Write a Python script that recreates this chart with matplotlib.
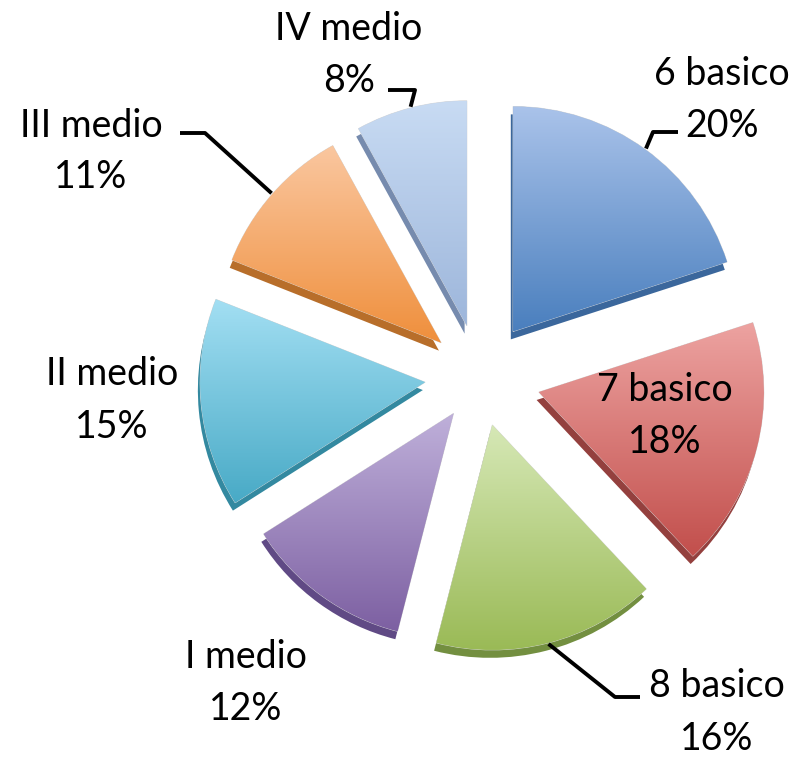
import matplotlib
matplotlib.use("Agg")
import matplotlib.pyplot as plt
import numpy as np
from matplotlib.colors import LinearSegmentedColormap

# ---------------- data ----------------
categories = ["6 basico", "7 basico", "8 basico", "I medio", "II medio", "III medio", "IV medio"]
percentages = [20, 18, 16, 12, 15, 11, 8]

# ---------------- style ----------------
top_colors = ["#AAC3EA", "#EDA3A1", "#D6E8B6", "#BFB0DA", "#A3DFF3", "#FAC7A0", "#C8DBF3"]
bottom_colors = ["#4A7FBE", "#C24F4C", "#9ABA56", "#7D60A2", "#48AAC6", "#EF8F3C", "#9DB6DB"]
side_colors = ["#3B679C", "#94403E", "#738F40", "#604A85", "#3389A0", "#B86E2A", "#768BAE"]
explode = [0.25, 0.27, 0.22, 0.20, 0.245, 0.23, 0.235]

W, H = 798, 757
R_PX = 225.0
CX, CY = 480.0, 377.0


def d(px, py):
    """pixel -> data coordinates"""
    return (px - CX) / R_PX, (CY - py) / R_PX


plt.rcParams["font.family"] = ["Lato", "DejaVu Sans"]

fig = plt.figure(figsize=(W / 100, H / 100), dpi=100)
ax = fig.add_axes([0, 0, 1, 1])

# extruded "side" of the 3D slices
side_wedges, _ = ax.pie(percentages, explode=explode, startangle=90, counterclock=False,
                        colors=side_colors, radius=1.0, center=(-0.01, -0.035),
                        wedgeprops=dict(linewidth=0))
for w in side_wedges:
    w.set_zorder(1)

# main slices
wedges, _ = ax.pie(percentages, explode=explode, startangle=90, counterclock=False,
                   colors=bottom_colors, radius=1.0,
                   wedgeprops=dict(linewidth=0.6, edgecolor="#d8d8d8"))
for i, w in enumerate(wedges):
    w.set_zorder(2)
    ext = w.get_path().get_extents()
    cmap = LinearSegmentedColormap.from_list("g%d" % i, [bottom_colors[i], top_colors[i]])
    grad = np.linspace(1, 0, 256).reshape(-1, 1)
    im = ax.imshow(grad, cmap=cmap, extent=[ext.x0, ext.x1, ext.y0, ext.y1],
                   origin="upper", aspect="auto", interpolation="bilinear", zorder=3)
    im.set_clip_path(w)

# ---------------- labels ----------------
FS = 27
# (center x, name baseline y, pct baseline y) in pixels
label_pos = {
    "6 basico": (722, 85, 137),
    "7 basico": (665, 401, 453),
    "8 basico": (717, 697, 750),
    "I medio": (246, 668, 720),
    "II medio": (112, 385, 438),
    "III medio": (91, 137, 188),
    "IV medio": (349, 40, 92),
}
for cat, pct in zip(categories, percentages):
    x, y1, y2 = label_pos[cat]
    ax.text(*d(x, y1), cat, ha="center", va="baseline", fontsize=FS, color="black", zorder=6)
    ax.text(*d(x, y2), f"{pct}%", ha="center", va="baseline", fontsize=FS, color="black", zorder=6)

# leader lines: start on arc midpoint of the slice, elbow, horizontal end (pixels)
leaders = {
    "6 basico": [(653, 132), (678, 132)],
    "8 basico": [(615, 697), (640, 697)],
    "III medio": [(205, 133), (180, 133)],
    "IV medio": [(415, 90), (388, 90)],
}
for i, cat in enumerate(categories):
    if cat not in leaders:
        continue
    w = wedges[i]
    mid = np.deg2rad((w.theta1 + w.theta2) / 2)
    cx, cy = w.center
    sx, sy = cx + 1.005 * np.cos(mid), cy + 1.005 * np.sin(mid)
    pts = [(sx, sy)] + [d(*p) for p in leaders[cat]]
    xs, ys = zip(*pts)
    ax.plot(xs, ys, color="black", lw=2.8, solid_capstyle="butt", zorder=5)

ax.set_xlim(-CX / R_PX, (W - CX) / R_PX)
ax.set_ylim(-(H - CY) / R_PX, CY / R_PX)
ax.set_aspect("auto")
ax.axis("off")

fig.savefig("out.png", dpi=100)
